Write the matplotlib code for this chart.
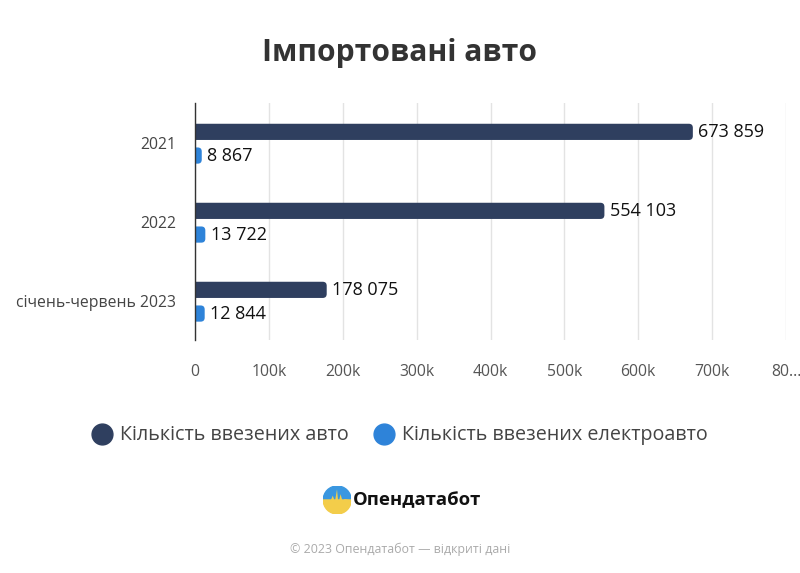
import numpy as np
import matplotlib
matplotlib.use('Agg')
import matplotlib.pyplot as plt
from matplotlib.patches import Circle, Wedge, FancyBboxPatch

plt.rcParams['font.family'] = ['Open Sans', 'DejaVu Sans']

# дані
categories = ['2021', '2022', 'січень-червень 2023']
cars = [673859, 554103, 178075]
ev_cars = [8867, 13722, 12844]
series_names = ['Кількість ввезених авто', 'Кількість ввезених електроавто']
xticks = [0, 100000, 200000, 300000, 400000, 500000, 600000, 700000, 800000]
xtick_labels = ['0', '100k', '200k', '300k', '400k', '500k', '600k', '700k', '80...']

dark = '#2f3f5f'
blue = '#2e83d9'

def fmt(v):
    return '{:,}'.format(v).replace(',', ' ')

fig = plt.figure(figsize=(8, 5.73), dpi=100)
ax = fig.add_axes([0.244, 0.4066, 0.7385, 0.4136])
ax.set_xlim(0, 800000)
ax.set_ylim(len(categories) - 0.5, -0.5)

y = np.arange(len(categories))
h = 0.205
bars1 = ax.barh(y - 0.135, cars, height=h, color=dark, zorder=3)
bars2 = ax.barh(y + 0.165, ev_cars, height=h, color=blue, zorder=3)

# закруглені кінці смуг
fig.canvas.draw()
ux = ax.transData.inverted().transform([(1, 0), (0, 0)])
uy = ax.transData.inverted().transform([(0, 1), (0, 0)])
xpx = abs(ux[0][0] - ux[1][0])
ypx = abs(uy[0][1] - uy[1][1])
r = 4 * xpx
for bars in (bars1, bars2):
    for rect in bars:
        x0, y0 = rect.get_x(), rect.get_y()
        w, hh = rect.get_width(), rect.get_height()
        rect.set_visible(False)
        p = FancyBboxPatch((x0 - r, y0), w + r, hh,
                           boxstyle='round,pad=0,rounding_size=%f' % r,
                           mutation_aspect=ypx / xpx,
                           facecolor=rect.get_facecolor(), edgecolor='none', zorder=3)
        ax.add_patch(p)

for yy, v in zip(y - 0.135, cars):
    ax.annotate(fmt(v), (v, yy), xytext=(4, 0), textcoords='offset points',
                va='center', ha='left', fontsize=13, color='#111111')
for yy, v in zip(y + 0.165, ev_cars):
    ax.annotate(fmt(v), (v, yy), xytext=(4, 0), textcoords='offset points',
                va='center', ha='left', fontsize=13, color='#111111')

ax.set_yticks(y)
ax.set_yticklabels(categories, fontsize=11.3, color='#444444')
ax.set_xticks(xticks)
ax.set_xticklabels(xtick_labels, fontsize=11.3, color='#555555')
ax.tick_params(axis='y', length=0, pad=14)
ax.tick_params(axis='x', length=0, pad=17)
ax.grid(axis='x', color='#e3e3e3', linewidth=1, zorder=0)
for s in ['top', 'right', 'bottom']:
    ax.spines[s].set_visible(False)
ax.spines['left'].set_color('#333333')
ax.spines['left'].set_linewidth(1)
ax.spines['left'].set_zorder(4)

fig.text(0.5, 0.908, 'Імпортовані авто', ha='center', va='center',
         fontsize=21.6, fontweight='bold', color='#333333')

# легенда
fig.legend([plt.Line2D([], [], marker='o', ls='', color=dark, markersize=15),
            plt.Line2D([], [], marker='o', ls='', color=blue, markersize=15)],
           series_names, loc='center', bbox_to_anchor=(0.494, 0.24), ncol=2,
           frameon=False, fontsize=14.2, labelcolor='#444444', handletextpad=-0.1,
           columnspacing=0.8)

# логотип
lax = fig.add_axes([0.404, 0.103, 0.035, 0.0489])
lax.set_xlim(-1, 1)
lax.set_ylim(-1, 1)
lax.set_aspect('equal')
lax.axis('off')
clip = Circle((0, 0), 1, transform=lax.transData)
lax.add_patch(Wedge((0, 0), 1, 0, 180, color='#3a97e0'))
lax.add_patch(Wedge((0, 0), 1, 180, 360, color='#f3cd4a'))
lx = [-1, -0.5, -0.35, -0.2, -0.05, 0.05, 0.2, 0.35, 0.5, 1]
ly = [0.0, 0.0, 0.35, -0.1, 0.8, -0.25, 0.45, -0.05, 0.1, 0.0]
fb = lax.fill_between(lx, -1, ly, color='#f3cd4a', lw=0)
fb.set_clip_path(clip)
fig.text(0.441, 0.127, 'Опендатабот', ha='left', va='center', fontsize=13.3,
         fontweight='bold', color='#111111')

fig.text(0.5, 0.042, '© 2023 Опендатабот — відкриті дані', ha='center', va='center',
         fontsize=8.9, color='#aaaaaa')

fig.savefig('out.png', dpi=100, facecolor='white')
